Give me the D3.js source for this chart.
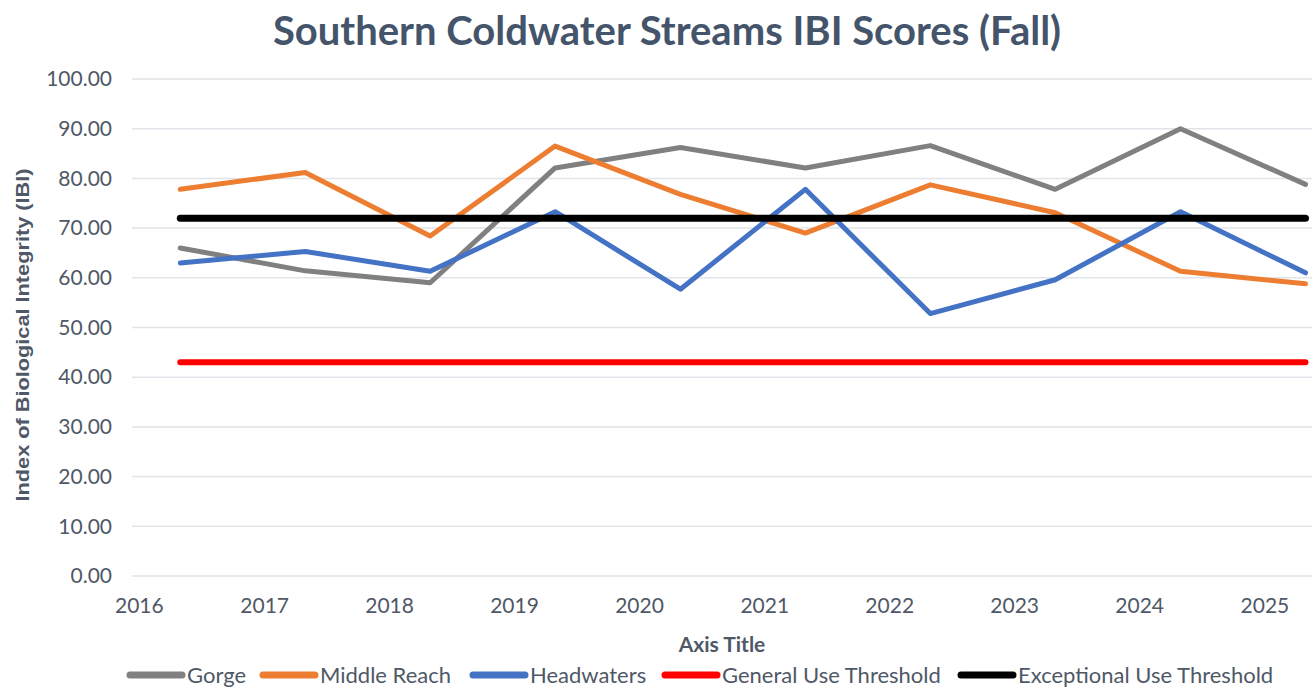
<!DOCTYPE html>
<html>
<head>
<meta charset="utf-8">
<script src="https://cdn.jsdelivr.net/npm/d3@7"></script>
<style>
  body { margin: 0; background: #fff; }
  text { font-family: Lato, "Open Sans", sans-serif; }
</style>
</head>
<body>
<svg id="chart" width="1314" height="689"></svg>
<script>
// sample dates (one fall survey per year)
const dates = ["2016-05-01", "2017-05-01", "2018-05-01", "2019-05-01", "2020-05-01",
               "2021-05-01", "2022-05-01", "2023-05-01", "2024-05-01", "2025-05-01"];
const gorge = [66.0, 61.4, 59.0, 82.1, 86.2, 82.1, 86.6, 77.8, 90.0, 78.8];
const middleReach = [77.8, 81.2, 68.4, 86.5, 76.8, 69.0, 78.7, 73.1, 61.3, 58.8];
const headwaters = [63.0, 65.3, 61.3, 73.3, 57.7, 77.8, 52.8, 59.6, 73.3, 61.0];
const generalUse = [43, 43, 43, 43, 43, 43, 43, 43, 43, 43];
const exceptionalUse = [72, 72, 72, 72, 72, 72, 72, 72, 72, 72];
const yTicks = [0, 10, 20, 30, 40, 50, 60, 70, 80, 90, 100];
const yearTicks = [2016, 2017, 2018, 2019, 2020, 2021, 2022, 2023, 2024, 2025];

const series = [
  { name: "Gorge", values: gorge, color: "#808080", width: 5 },
  { name: "Middle Reach", values: middleReach, color: "#ED7D31", width: 5 },
  { name: "Headwaters", values: headwaters, color: "#4472C4", width: 5 },
  { name: "General Use Threshold", values: generalUse, color: "#FF0000", width: 6 },
  { name: "Exceptional Use Threshold", values: exceptionalUse, color: "#000000", width: 7 }
];

const svg = d3.select("#chart");
const textColor = "#4f5866";
const plotL = 132, plotR = 1312, plotT = 79, plotB = 576;

const parse = d3.timeParse("%Y-%m-%d");
const x = d3.scaleTime()
  .domain([new Date(2015, 11, 12), new Date(2025, 4, 20)])
  .range([plotL, plotR]);
const y = d3.scaleLinear().domain([0, 100]).range([plotB, plotT]);

// gridlines
svg.append("g")
  .selectAll("line")
  .data(yTicks)
  .join("line")
  .attr("x1", plotL).attr("x2", plotR)
  .attr("y1", d => y(d)).attr("y2", d => y(d))
  .attr("stroke", "#e1e4e9")
  .attr("stroke-width", 1.5);

// y axis labels
const yAxis = svg.append("g")
  .attr("transform", `translate(${plotL - 20},0)`)
  .call(d3.axisLeft(y).tickValues(yTicks).tickFormat(d3.format(".2f")).tickSize(0).tickPadding(0));
yAxis.select(".domain").remove();
yAxis.selectAll("text")
  .attr("fill", textColor)
  .style("font-size", "21px")
  .style("font-family", "Lato, sans-serif");

// x axis labels
const xAxis = svg.append("g")
  .attr("transform", `translate(0,${plotB + 30})`)
  .call(d3.axisBottom(x)
    .tickValues(yearTicks.map(yr => new Date(yr, 0, 1)))
    .tickFormat(d3.timeFormat("%Y"))
    .tickSize(0).tickPadding(0));
xAxis.select(".domain").remove();
xAxis.selectAll("text")
  .attr("fill", textColor)
  .attr("dy", "0.35em")
  .style("font-size", "21px")
  .style("font-family", "Lato, sans-serif");

// lines
const line = d3.line()
  .x((d, i) => x(parse(dates[i])))
  .y(d => y(d));

svg.append("g")
  .selectAll("path")
  .data(series)
  .join("path")
  .attr("d", d => line(d.values))
  .attr("fill", "none")
  .attr("stroke", d => d.color)
  .attr("stroke-width", d => d.width)
  .attr("stroke-linejoin", "round")
  .attr("stroke-linecap", "round");

// title
svg.append("text")
  .attr("x", 667).attr("y", 45)
  .attr("text-anchor", "middle")
  .attr("fill", "#44546A")
  .style("font-size", "40px")
  .style("font-weight", "bold")
  .text("Southern Coldwater Streams IBI Scores (Fall)");

// axis titles
svg.append("text")
  .attr("x", (plotL + plotR) / 2).attr("y", 652)
  .attr("text-anchor", "middle")
  .attr("fill", textColor)
  .style("font-size", "21px")
  .style("font-weight", "bold")
  .text("Axis Title");

svg.append("text")
  .attr("transform", "translate(29,335) rotate(-90)")
  .attr("text-anchor", "middle")
  .attr("fill", textColor)
  .style("font-family", "'Liberation Sans', Arial, sans-serif")
  .style("font-size", "19px")
  .style("font-weight", "bold")
  .attr("textLength", 333)
  .attr("lengthAdjust", "spacingAndGlyphs")
  .text("Index of Biological Integrity (IBI)");

// legend (item start positions as in the original layout)
const legendX = [127, 260, 470, 662, 958];
const legend = svg.append("g").attr("transform", "translate(0,675)");
series.forEach((s, i) => {
  const lx = legendX[i];
  legend.append("line")
    .attr("x1", lx + 3).attr("x2", lx + 55)
    .attr("y1", 0).attr("y2", 0)
    .attr("stroke", s.color)
    .attr("stroke-width", 7)
    .attr("stroke-linecap", "round");
  legend.append("text")
    .attr("x", lx + 60).attr("y", 0)
    .attr("dy", "0.35em")
    .attr("fill", textColor)
    .style("font-size", "22px")
    .text(s.name);
});
</script>
</body>
</html>
